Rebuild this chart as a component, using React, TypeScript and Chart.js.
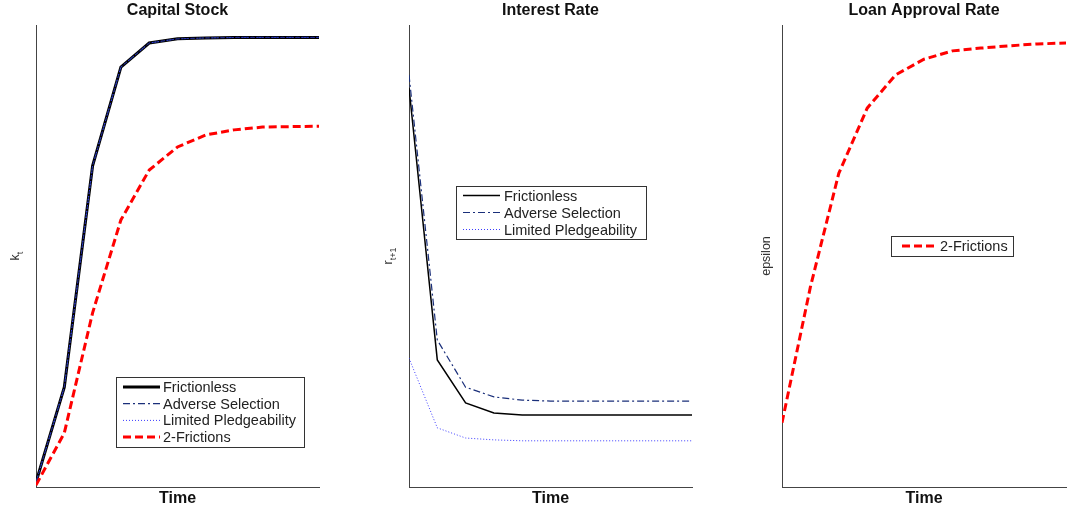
import React, { useEffect, useRef } from "react";
import { Chart, registerables } from "chart.js";

Chart.register(...registerables);

// ---------- data ----------
const time = [0, 1, 2, 3, 4, 5, 6, 7, 8, 9, 10];

const capitalFrictionless = [1.0, 21.6, 69.5, 90.9, 96.1, 97.0, 97.2, 97.3, 97.3, 97.3, 97.3];
const capitalAdverse = [1.0, 21.6, 69.5, 90.9, 96.1, 97.0, 97.2, 97.3, 97.3, 97.3, 97.3];
const capitalPledge = [1.0, 21.6, 69.5, 90.9, 96.1, 97.0, 97.2, 97.3, 97.3, 97.3, 97.3];
const capitalTwoFrictions = [0.4, 11.7, 37.7, 57.8, 68.6, 73.6, 76.2, 77.3, 77.9, 78.0, 78.1];

const rateFrictionless = [86.4, 27.5, 18.2, 16.0, 15.6, 15.6, 15.6, 15.6, 15.6, 15.6, 15.6];
const rateAdverse = [89.2, 31.8, 21.6, 19.5, 18.8, 18.6, 18.6, 18.6, 18.6, 18.6, 18.6];
const ratePledge = [27.9, 12.8, 10.6, 10.2, 10.0, 10.0, 10.0, 10.0, 10.0, 10.0, 10.0];

const approvalTwoFrictions = [13.9, 43.3, 67.9, 82.0, 89.2, 92.6, 94.4, 95.0, 95.5, 95.9, 96.1];

const titles = ["Capital Stock", "Interest Rate", "Loan Approval Rate"];
const xLabel = "Time";

// ---------- styles ----------
const FONT = '"Liberation Sans", Arial, Helvetica, sans-serif';
const BLACK = "#000000";
const NAVY = "#1a2f7a";
const BLUE = "#3b3bff";
const RED = "#ff0000";

const pts = (ys: number[]) => time.map((t, i) => ({ x: t, y: ys[i] }));

// ---------- decoration plugin (titles, labels, legend) ----------
const decorPlugin = {
  id: "panelDecor",
  afterDraw(chart: any, _args: any, opts: any) {
    const { ctx, chartArea: a } = chart;
    const cx = (a.left + a.right) / 2;
    ctx.save();
    ctx.fillStyle = "#111";
    ctx.textAlign = "center";
    ctx.textBaseline = "middle";
    ctx.font = `bold 16px ${FONT}`;
    ctx.fillText(opts.title, cx, a.top - 14);
    ctx.font = `bold 16px ${FONT}`;
    ctx.fillText(xLabel, cx, a.bottom + 12);

    // rotated y label with optional subscript
    ctx.save();
    ctx.translate(a.left - opts.yLabelOffset, (a.top + a.bottom) / 2);
    ctx.rotate(-Math.PI / 2);
    ctx.fillStyle = "#333";
    const mainFont = `12.5px ${FONT}`;
    const subFont = `9px ${FONT}`;
    ctx.font = mainFont;
    const wMain = ctx.measureText(opts.yMain).width;
    ctx.font = subFont;
    const wSub = opts.ySub ? ctx.measureText(opts.ySub).width : 0;
    const start = -(wMain + wSub) / 2;
    ctx.textAlign = "left";
    ctx.font = mainFont;
    ctx.fillText(opts.yMain, start, 0);
    if (opts.ySub) {
      ctx.font = subFont;
      ctx.fillText(opts.ySub, start + wMain, 5);
    }
    ctx.restore();

    // legend box
    const lg = opts.legend;
    const bx = a.left + lg.dx;
    const by = a.top + lg.dy;
    ctx.fillStyle = "#ffffff";
    ctx.fillRect(bx, by, lg.w, lg.h);
    ctx.strokeStyle = "#333";
    ctx.lineWidth = 1;
    ctx.setLineDash([]);
    ctx.strokeRect(Math.round(bx) + 0.5, Math.round(by) + 0.5, lg.w, lg.h);
    const datasets = chart.data.datasets;
    datasets.forEach((ds: any, i: number) => {
      const y = by + lg.firstRow + i * lg.rowStep;
      ctx.save();
      ctx.strokeStyle = ds.borderColor;
      ctx.lineWidth = ds.borderWidth;
      ctx.setLineDash(ds.borderDash || []);
      ctx.beginPath();
      ctx.moveTo(bx + lg.sampleFrom, y);
      ctx.lineTo(bx + lg.sampleTo, y);
      ctx.stroke();
      ctx.restore();
      ctx.fillStyle = "#222";
      ctx.font = `14.5px ${FONT}`;
      ctx.textAlign = "left";
      ctx.textBaseline = "middle";
      ctx.fillText(ds.label, bx + lg.textX, y + 1);
    });
    ctx.restore();
  },
};

type PanelProps = {
  width: number;
  padLeft: number;
  padRight: number;
  datasets: any[];
  decor: any;
};

function Panel({ width, padLeft, padRight, datasets, decor }: PanelProps) {
  const ref = useRef<HTMLCanvasElement | null>(null);
  useEffect(() => {
    if (!ref.current) return;
    const axisBase = {
      display: true,
      ticks: { display: false },
      grid: { display: false, drawTicks: false },
      border: { display: true, color: "#444", width: 1 },
      title: { display: false },
    };
    const chart = new Chart(ref.current, {
      type: "line",
      data: { datasets },
      options: {
        animation: false,
        responsive: false,
        devicePixelRatio: 1,
        layout: { padding: { left: padLeft, right: padRight, top: 25, bottom: 24 } },
        elements: { point: { radius: 0 }, line: { tension: 0 } },
        scales: {
          x: { ...axisBase, type: "linear", min: 0, max: 10 },
          y: { ...axisBase, type: "linear", min: 0, max: 100 },
        },
        plugins: {
          legend: { display: false },
          tooltip: { enabled: false },
          title: { display: false },
          panelDecor: decor,
        } as any,
      },
      plugins: [decorPlugin],
    });
    return () => chart.destroy();
  }, []);
  return <canvas ref={ref} width={width} height={511} style={{ display: "block" }} />;
}

export default function App() {
  const capitalSets = [
    { label: "Frictionless", data: pts(capitalFrictionless), borderColor: BLACK, borderWidth: 3, borderDash: [], order: 3 },
    { label: "Adverse Selection", data: pts(capitalAdverse), borderColor: NAVY, borderWidth: 1.2, borderDash: [7, 3, 2, 3], order: 2 },
    { label: "Limited Pledgeability", data: pts(capitalPledge), borderColor: BLUE, borderWidth: 1, borderDash: [1, 2], order: 1 },
    { label: "2-Frictions", data: pts(capitalTwoFrictions), borderColor: RED, borderWidth: 3, borderDash: [8, 4], order: 0 },
  ];
  const rateSets = [
    { label: "Frictionless", data: pts(rateFrictionless), borderColor: BLACK, borderWidth: 1.5, borderDash: [], order: 3 },
    { label: "Adverse Selection", data: pts(rateAdverse), borderColor: NAVY, borderWidth: 1.2, borderDash: [7, 3, 2, 3], order: 2 },
    { label: "Limited Pledgeability", data: pts(ratePledge), borderColor: BLUE, borderWidth: 1, borderDash: [1, 2], order: 1 },
  ];
  const approvalSets = [
    { label: "2-Frictions", data: pts(approvalTwoFrictions), borderColor: RED, borderWidth: 3, borderDash: [8, 4] },
  ];

  return (
    <div style={{ position: "absolute", left: 0, top: 0, width: 1074, height: 511, background: "#fff", display: "flex" }}>
      <Panel
        width={358}
        padLeft={36}
        padRight={39}
        datasets={capitalSets}
        decor={{
          title: titles[0],
          yMain: "k",
          ySub: "t",
          yLabelOffset: 20,
          legend: { dx: 80, dy: 352, w: 188, h: 70, firstRow: 10, rowStep: 16.7, sampleFrom: 7, sampleTo: 44, textX: 47 },
        }}
      />
      <Panel
        width={358}
        padLeft={51}
        padRight={24}
        datasets={rateSets}
        decor={{
          title: titles[1],
          yMain: "r",
          ySub: "t+1",
          yLabelOffset: 20,
          legend: { dx: 47, dy: 161, w: 190, h: 53, firstRow: 9.5, rowStep: 17, sampleFrom: 7, sampleTo: 44, textX: 48 },
        }}
      />
      <Panel
        width={358}
        padLeft={66}
        padRight={8}
        datasets={approvalSets}
        decor={{
          title: titles[2],
          yMain: "epsilon",
          ySub: "",
          yLabelOffset: 15,
          legend: { dx: 109, dy: 211, w: 122, h: 20, firstRow: 10, rowStep: 17, sampleFrom: 11, sampleTo: 45, textX: 49 },
        }}
      />
    </div>
  );
}
